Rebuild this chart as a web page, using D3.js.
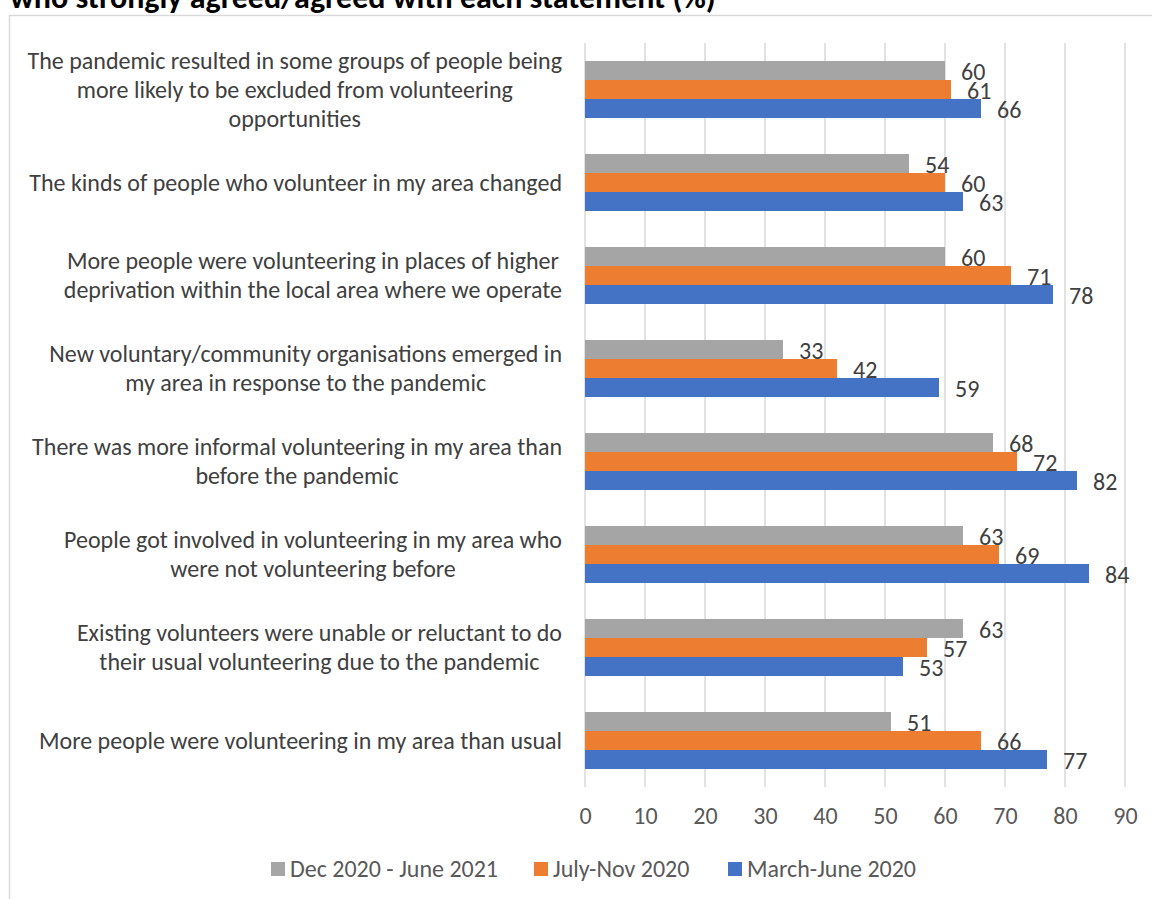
<!DOCTYPE html>
<html>
<head>
<meta charset="utf-8">
<script src="https://cdn.jsdelivr.net/npm/d3@7"></script>
<style>
  body { margin: 0; background: #fff; }
  svg { display: block; }
  text { font-family: Carlito, Calibri, "Liberation Sans", Arial, sans-serif; }
</style>
</head>
<body>
<div id="container"></div>
<script>
/* CONSTANTS AND GLOBALS */
const width = 1152;
const height = 899;
const fontSize = 24;

/* DATA */
const categories = [
  ["The pandemic resulted in some groups of people being", "more likely to be excluded from volunteering", "opportunities"],
  ["The kinds of people who volunteer in my area changed"],
  ["More people were volunteering in places of higher", "deprivation within the local area where we operate"],
  ["New voluntary/community organisations emerged in", "my area in response to the pandemic"],
  ["There was more informal volunteering in my area than", "before the pandemic"],
  ["People got involved in volunteering in my area who", "were not volunteering before"],
  ["Existing volunteers were unable or reluctant to do", "their usual volunteering due to the pandemic"],
  ["More people were volunteering in my area than usual"]
];
const seriesNames = ["Dec 2020 - June 2021", "July-Nov 2020", "March-June 2020"];
const dec20jun21 = [60, 54, 60, 33, 68, 63, 63, 51];
const julNov20 = [61, 60, 71, 42, 72, 69, 57, 66];
const marJun20 = [66, 63, 78, 59, 82, 84, 53, 77];
const xTicks = [0, 10, 20, 30, 40, 50, 60, 70, 80, 90];
const colors = ["#A5A5A5", "#ED7D31", "#4472C4"];
const titleText = "who strongly agreed/agreed with each statement (%)";

const seriesValues = [dec20jun21, julNov20, marJun20];
const data = categories.map((lines, i) => ({
  id: i,
  lines: lines,
  values: seriesValues.map((s, j) => ({ series: j, value: s[i] }))
}));

/* SCALES */
const xScale = d3.scaleLinear()
  .domain([0, 90])
  .range([585, 1125]);

const yScale = d3.scaleBand()
  .domain(data.map(d => d.id))
  .range([43, 787])
  .paddingInner(36 / 93)
  .paddingOuter(18 / 93);

const ySub = d3.scaleBand()
  .domain(d3.range(seriesNames.length))
  .range([0, yScale.bandwidth()]);

const color = d3.scaleOrdinal()
  .domain(d3.range(seriesNames.length))
  .range(colors);

/* HTML ELEMENTS */
const svg = d3.select("#container")
  .append("svg")
  .attr("width", width)
  .attr("height", height);

// chart border
svg.append("rect")
  .attr("x", 9.5)
  .attr("y", 15.5)
  .attr("width", 1200)
  .attr("height", 1000)
  .attr("fill", "#fff")
  .attr("stroke", "#D9D9D9")
  .attr("stroke-width", 1.5);

// cut-off title
svg.append("text")
  .attr("x", 10)
  .attr("y", 8)
  .attr("font-size", 32)
  .attr("font-weight", "bold")
  .attr("fill", "#000")
  .text(titleText);

// gridlines
svg.selectAll("line.grid")
  .data(xTicks)
  .join("line")
  .attr("class", "grid")
  .attr("x1", d => xScale(d))
  .attr("x2", d => xScale(d))
  .attr("y1", 43)
  .attr("y2", 787)
  .attr("stroke", "#D9D9D9")
  .attr("stroke-width", 1.5);

// x axis labels
const xAxis = d3.axisBottom(xScale)
  .tickValues(xTicks)
  .tickSize(0)
  .tickPadding(0);
const gx = svg.append("g")
  .attr("transform", "translate(0,816)")
  .call(xAxis);
gx.select(".domain").remove();
gx.selectAll("text")
  .attr("dy", "0.35em")
  .attr("y", 0)
  .attr("font-size", fontSize)
  .attr("font-family", null)
  .attr("fill", "#595959");

// bars
const groups = svg.selectAll("g.cat")
  .data(data)
  .join("g")
  .attr("class", "cat")
  .attr("transform", d => `translate(0,${yScale(d.id)})`);

groups.selectAll("rect.bar")
  .data(d => d.values)
  .join("rect")
  .attr("class", "bar")
  .attr("x", xScale(0))
  .attr("y", d => ySub(d.series))
  .attr("height", ySub.bandwidth())
  .attr("width", d => xScale(d.value) - xScale(0))
  .attr("fill", d => color(d.series));

// value labels
groups.selectAll("text.val")
  .data(d => d.values)
  .join("text")
  .attr("class", "val")
  .attr("x", d => xScale(d.value) + 16)
  .attr("y", d => ySub(d.series) + ySub.bandwidth() / 2 + 1)
  .attr("dy", "0.35em")
  .attr("font-size", fontSize)
  .attr("fill", "#404040")
  .text(d => d.value);

// category labels (lines centred, block right-aligned)
const lineH = 29;
groups.each(function(d) {
  const g = d3.select(this);
  const t = g.append("text")
    .attr("font-size", fontSize)
    .attr("fill", "#404040")
    .attr("text-anchor", "middle");
  const n = d.lines.length;
  const spans = t.selectAll("tspan")
    .data(d.lines)
    .join("tspan")
    .attr("y", (l, i) => yScale.bandwidth() / 2 + (i - (n - 1) / 2) * lineH)
    .attr("dy", "0.35em")
    .text(l => l);
  const maxW = d3.max(spans.nodes(), s => s.getComputedTextLength());
  spans.attr("x", 562 - maxW / 2);
});

// legend
const legendX = [271, 534, 728];
const legend = svg.selectAll("g.legend")
  .data(seriesNames)
  .join("g")
  .attr("class", "legend")
  .attr("transform", (d, i) => `translate(${legendX[i]},869)`);
legend.append("rect")
  .attr("x", 0)
  .attr("y", -7)
  .attr("width", 14)
  .attr("height", 14)
  .attr("fill", (d, i) => color(i));
legend.append("text")
  .attr("x", 19)
  .attr("dy", "0.35em")
  .attr("font-size", fontSize)
  .attr("fill", "#595959")
  .text(d => d);
</script>
</body>
</html>
